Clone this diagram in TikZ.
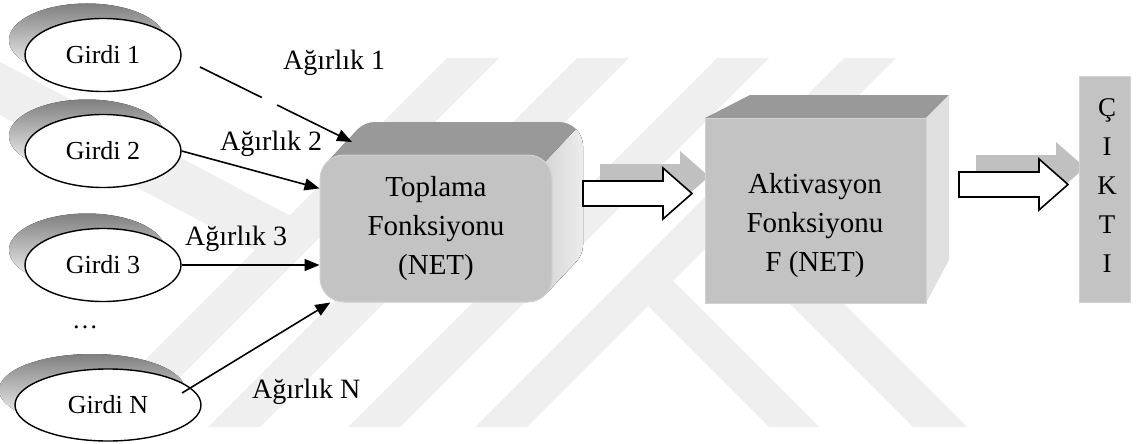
\documentclass[tikz,border=0pt]{standalone}
\usepackage{fontspec}
\setmainfont{Liberation Serif}
\usetikzlibrary{arrows.meta,calc,shapes.geometric}

\definecolor{wm}{HTML}{EFEFEF}
\definecolor{shade}{HTML}{C0C0C0}
\definecolor{face}{HTML}{C3C3C3}
\definecolor{frontedge}{HTML}{D2D2D2}
\definecolor{topface}{HTML}{999999}
\definecolor{sideface}{HTML}{E0E0E0}

\tikzset{
  input/.style={ellipse, draw, line width=1.4pt, fill=white, inner sep=0pt,
    minimum width=156pt, minimum height=73pt, font=\fontsize{26}{30}\selectfont},
  wlabel/.style={anchor=base west, inner sep=0pt, font=\fontsize{28}{32}\selectfont},
  boxtext/.style={align=center, inner sep=0pt, font=\fontsize{29}{39}\selectfont},
  wt/.style={line width=1.6pt, -{Triangle[length=15pt,width=12pt]}},
  blockarrow/.pic={
    \path[pic actions] (0,-12.5) -- (80,-12.5) -- (80,-25.5) -- (109,0)
      -- (80,25.5) -- (80,12.5) -- (0,12.5) -- cycle;
  }
}

\begin{document}
\begin{tikzpicture}[x=1pt,y=-1pt]
\useasboundingbox (0,0) rectangle (1138,444);

% faint background emblem
\foreach \L in {447,577,717,844}
  \fill[wm] (\L,58) -- (\L+52,58) -- (\L+52-369,427) -- (\L-369,427) -- cycle;
\fill[wm] (0,62) -- (323.5,233.5) -- (255,250) -- (0,115) -- cycle;
\fill[wm] (622,280) -- (647,255) -- (819,427) -- (769,427) -- cycle;
\fill[wm] (694,208) -- (721,181) -- (967,427) -- (913,427) -- cycle;

% shadows of the inputs
\fill[shade] (87,40) ellipse [x radius=78, y radius=36.5];
\fill[shade] (87,136) ellipse [x radius=78, y radius=36.5];
\fill[shade] (87,250) ellipse [x radius=78, y radius=36.5];
\fill[shade] (92,390) ellipse [x radius=93, y radius=36];

% inputs
\node[input] (g1) at (103,55) {Girdi 1};
\node[input] (g2) at (103,151) {Girdi 2};
\node[input] (g3) at (103,265) {Girdi 3};
\node[input, minimum width=186pt, minimum height=72pt] (gN) at (108,405) {Girdi N};
\node[font=\fontsize{26}{30}\selectfont, inner sep=0pt] (dots) at (85,327) {\dots};

% summation block: extruded rounded box
\foreach \t in {0,...,33}
  \fill[topface, rounded corners=24pt, shift={(\t*31/33,-\t)}] (320,155) rectangle (552,302);
\fill[left color=sideface!90!gray, right color=sideface!60!white]
  (552,179) -- (552,278) arc[start angle=0, end angle=43.2, radius=24]
  -- ++(31,-33) arc[start angle=43.2, end angle=0, radius=24]
  -- (583,146) arc[start angle=0, end angle=-45, radius=24]
  -- ++(-31,33) arc[start angle=-45, end angle=0, radius=24] -- cycle;
\node[boxtext, draw=frontedge, fill=face, line width=1pt, rounded corners=24pt,
  minimum width=232pt, minimum height=147pt] (sum) at (436,228.5)
  {Toplama\\Fonksiyonu\\(NET)};

% block arrows with their shadows
\pic[fill=shade] at (600,176.5) {blockarrow};
\pic[fill=shade] at (976,167.5) {blockarrow};
\pic[draw, fill=white, line width=1.6pt] at (583,193.5) {blockarrow};
\pic[draw, fill=white, line width=1.6pt] at (959,184.5) {blockarrow};

% activation block
\fill[topface] (705,118) -- (750,95) -- (949,95) -- (926,118) -- cycle;
\fill[sideface] (926,118) -- (949,95) -- (949,260) -- (926,303) -- cycle;
\node[draw=frontedge, fill=face, line width=1pt, minimum width=221pt,
  minimum height=185pt] (act) at (815.5,210.5) {};
\node[boxtext] (acttext) at (815,226) {Aktivasyon\\Fonksiyonu\\F (NET)};

% output column
\node[draw=frontedge, fill=face, line width=1pt, minimum width=51pt,
  minimum height=225pt] (out) at (1104.5,189.5) {};
\node[align=center, inner sep=0pt, font=\fontsize{27}{39}\selectfont]
  (outtext) at (1107,186) {Ç\\I\\K\\T\\I};

% weighted connections
\coordinate (w1s) at (200,67);
\coordinate (w1e) at (352,142);
\coordinate (wNs) at (182,393);
\draw[wt, dash pattern=on 69pt off 17pt on 300pt] (w1s) -- (w1e);
\draw[wt] (g2.east) -- (sum.161.6);
\draw[wt] (g3.east) -- (g3.east -| sum.west);
\draw[wt] (wNs) -- (sum.215);

\node[wlabel] (a1) at (283,70) {Ağırlık 1};
\node[wlabel] (a2) at (220,150) {Ağırlık 2};
\node[wlabel] (a3) at (185,245) {Ağırlık 3};
\node[wlabel] (aN) at (252,398) {Ağırlık N};
\end{tikzpicture}
\end{document}
